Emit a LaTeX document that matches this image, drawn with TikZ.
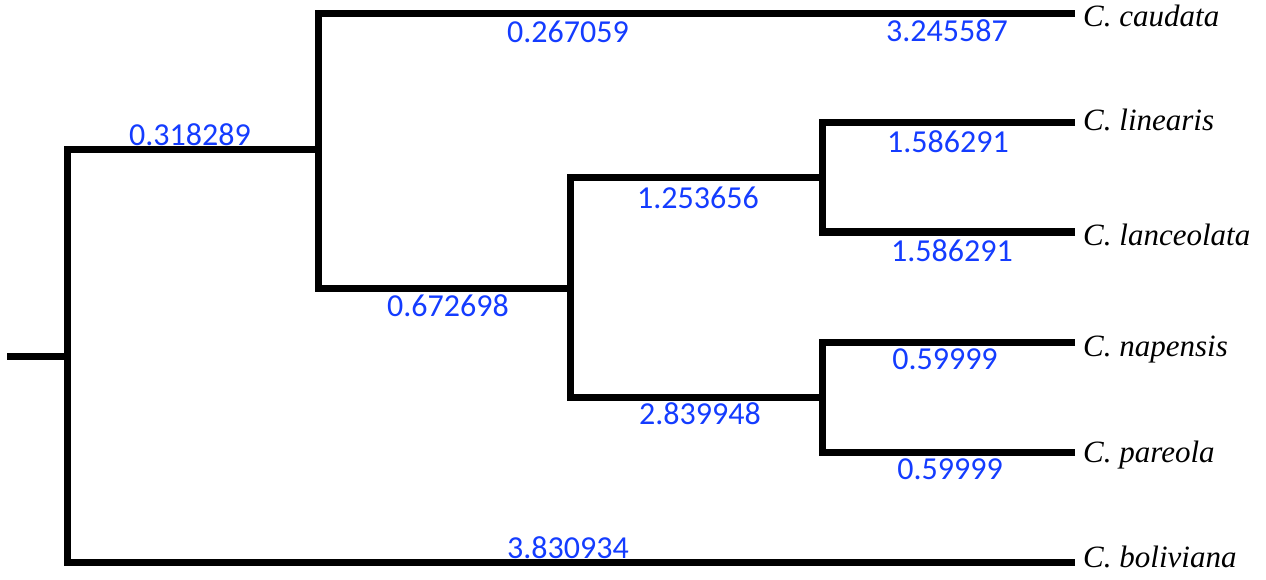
\documentclass[tikz,border=0pt]{standalone}
\usepackage{fontspec}
\setmainfont{Liberation Serif}
\newfontfamily\lenfont{Carlito}
\definecolor{lenblue}{RGB}{20,60,255}
\begin{document}
\begin{tikzpicture}[x=1pt,y=-1pt,
  branch/.style={line width=7pt,line cap=rect,line join=miter},
  len/.style={text=lenblue,font=\lenfont\fontsize{32}{36}\selectfont,inner sep=0pt,anchor=base},
  taxon/.style={font=\fontsize{31}{36}\selectfont\itshape,inner sep=0pt,anchor=base west}]
\useasboundingbox (0,0) rectangle (1266,580);

% internal nodes of the tree
\coordinate (r0) at (10.5,356);
\coordinate (n1) at (67,356);
\coordinate (n2) at (318,150);
\coordinate (n3) at (570,288);
\coordinate (n4) at (822,178);
\coordinate (n5) at (822,397);
\coordinate (cm) at (820,14);

% branch tips
\coordinate (t1) at (1071.5,14);
\coordinate (t2) at (1071.5,123);
\coordinate (t3) at (1071.5,232);
\coordinate (t4) at (1071.5,342);
\coordinate (t5) at (1071.5,452);
\coordinate (t6) at (1071.5,562);

% branches
\draw[branch] (r0) -- (n1);
\draw[branch] (n1) |- (n2);
\draw[branch] (n1) |- (t6);
\draw[branch] (n2) |- (cm);
\draw[branch] (cm) -- (t1);
\draw[branch] (n2) |- (n3);
\draw[branch] (n3) |- (n4);
\draw[branch] (n3) |- (n5);
\draw[branch] (n4) |- (t2);
\draw[branch] (n4) |- (t3);
\draw[branch] (n5) |- (t4);
\draw[branch] (n5) |- (t5);

% branch lengths
\node[len] (l12) at (190,146) {0.318289};
\node[len] (l2c) at (568,43) {0.267059};
\node[len] (lc)  at (947,42) {3.245587};
\node[len] (l23) at (448,316) {0.672698};
\node[len] (l34) at (698,208) {1.253656};
\node[len] (l35) at (700,424) {2.839948};
\node[len] (lli) at (948,153) {1.586291};
\node[len] (lla) at (952,261) {1.586291};
\node[len] (lna) at (945,369) {0.59999};
\node[len] (lpa) at (950,479) {0.59999};
\node[len] (lbo) at (568,558) {3.830934};

% taxa
\node[taxon] (s1) at (1083,27) {C. caudata};
\node[taxon] (s2) at (1083,131) {C. linearis};
\node[taxon] (s3) at (1083,245) {C. lanceolata};
\node[taxon] (s4) at (1083,356) {C. napensis};
\node[taxon] (s5) at (1083,462) {C. pareola};
\node[taxon] (s6) at (1083,567) {C. boliviana};
\end{tikzpicture}
\end{document}
